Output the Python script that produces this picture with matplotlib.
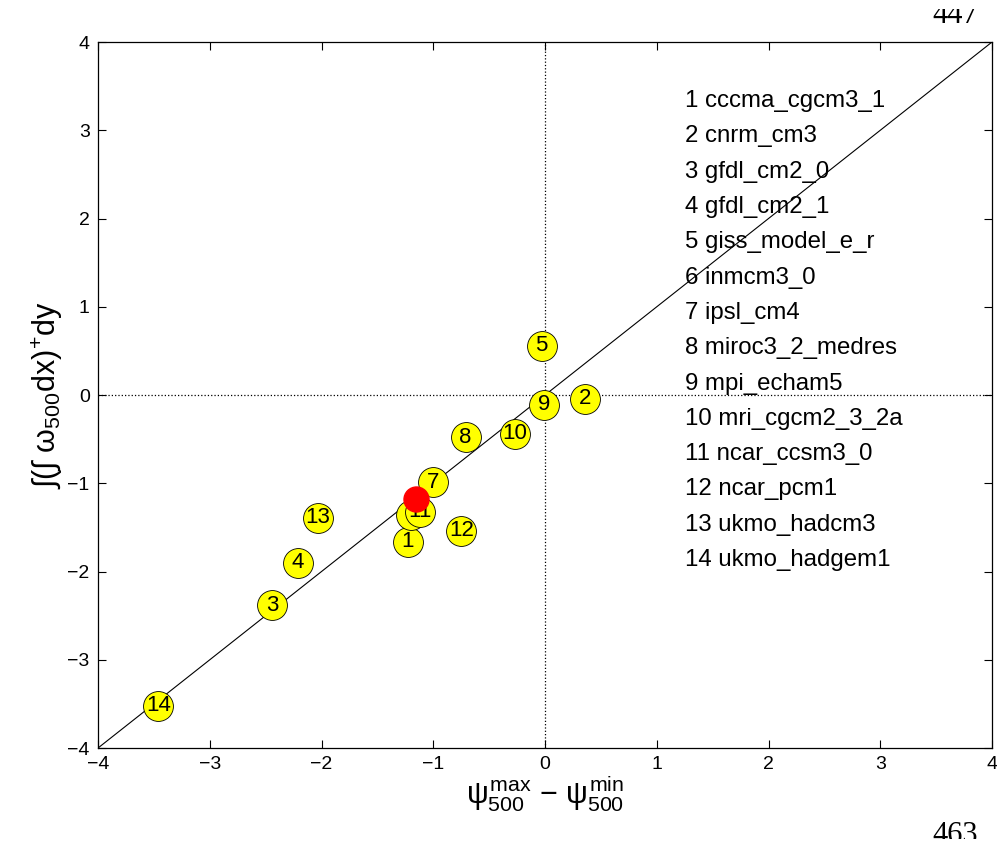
import matplotlib.pyplot as plt
import numpy as np
from matplotlib.patches import Rectangle

plt.rcParams['font.family'] = ['Liberation Sans', 'DejaVu Sans']
plt.rcParams['mathtext.fontset'] = 'custom'
plt.rcParams['mathtext.rm'] = 'Liberation Sans'
plt.rcParams['mathtext.it'] = 'Liberation Sans'
plt.rcParams['mathtext.bf'] = 'Liberation Sans'

# model names (legend list) and per-model values
models = ['cccma_cgcm3_1', 'cnrm_cm3', 'gfdl_cm2_0', 'gfdl_cm2_1', 'giss_model_e_r',
          'inmcm3_0', 'ipsl_cm4', 'miroc3_2_medres', 'mpi_echam5', 'mri_cgcm2_3_2a',
          'ncar_ccsm3_0', 'ncar_pcm1', 'ukmo_hadcm3', 'ukmo_hadgem1']
psi_diff = [-1.23, 0.36, -2.44, -2.21, -0.03, -1.20, -1.00, -0.71, -0.01, -0.27,
            -1.12, -0.75, -2.03, -3.46]
omega_int = [-1.66, -0.04, -2.38, -1.90, 0.56, -1.36, -0.99, -0.48, -0.11, -0.44,
             -1.32, -1.54, -1.39, -3.52]
mean_x = -1.15
mean_y = -1.18
ticks = [-4, -3, -2, -1, 0, 1, 2, 3, 4]

fig = plt.figure(figsize=(9.97, 8.44), dpi=100)
ax = fig.add_axes([0.0983, 0.1137, 0.8967, 0.8365])

ax.plot([-4, 4], [-4, 4], color='k', lw=0.8, zorder=1)
ax.axhline(0, color='k', ls=':', lw=0.9, zorder=1)
ax.axvline(0, color='k', ls=':', lw=0.9, zorder=1)

# each circle then its number, later models drawn on top
for i, (x, y) in enumerate(zip(psi_diff, omega_int)):
    ax.plot(x, y, 'o', ms=21.5, mfc='yellow', mec='k', mew=0.6, zorder=3 + 2 * i)
    ax.text(x, y, str(i + 1), ha='center', va='center', fontsize=16, zorder=4 + 2 * i)
ax.plot(mean_x, mean_y, 'o', ms=18, color='red', zorder=40)

for i, name in enumerate(models):
    ax.text(1.25, 3.33 - 0.4 * i, '%d %s' % (i + 1, name), fontsize=17.3,
            ha='left', va='center')

ax.set_xlim(-4, 4)
ax.set_ylim(-4, 4)
ax.set_xticks(ticks)
ax.set_yticks(ticks)
labels = [str(t).replace('-', '\u2212') for t in ticks]
ax.set_xticklabels(labels)
ax.set_yticklabels(labels)
ax.tick_params(direction='in', top=True, right=True, labelsize=14, length=6, width=0.8, pad=6)
for s in ax.spines.values():
    s.set_linewidth(0.9)

ax.set_xlabel('$\u03c8_{500}^{max}$ \u2212 $\u03c8_{500}^{min}$', fontsize=22, labelpad=0)
ax.set_ylabel('\u222b(\u222b \u03c9$_{500}$dx)$^{+}$dy', fontsize=22, labelpad=2)

# page numbers, partly cut off like in the scanned page
t1 = fig.text(0.9585, 1 - 23 / 844, '447', family='Liberation Serif', fontsize=22,
              ha='center', va='baseline')
t1.set_clip_path(Rectangle((0, 0), 1, 1 - 9 / 844, transform=fig.transFigure))
t2 = fig.text(0.9585, 1 / 844, '463', family='Liberation Serif', fontsize=22,
              ha='center', va='baseline')
t2.set_clip_path(Rectangle((0, 5 / 844), 1, 1, transform=fig.transFigure))

fig.savefig('out.png', dpi=100)
